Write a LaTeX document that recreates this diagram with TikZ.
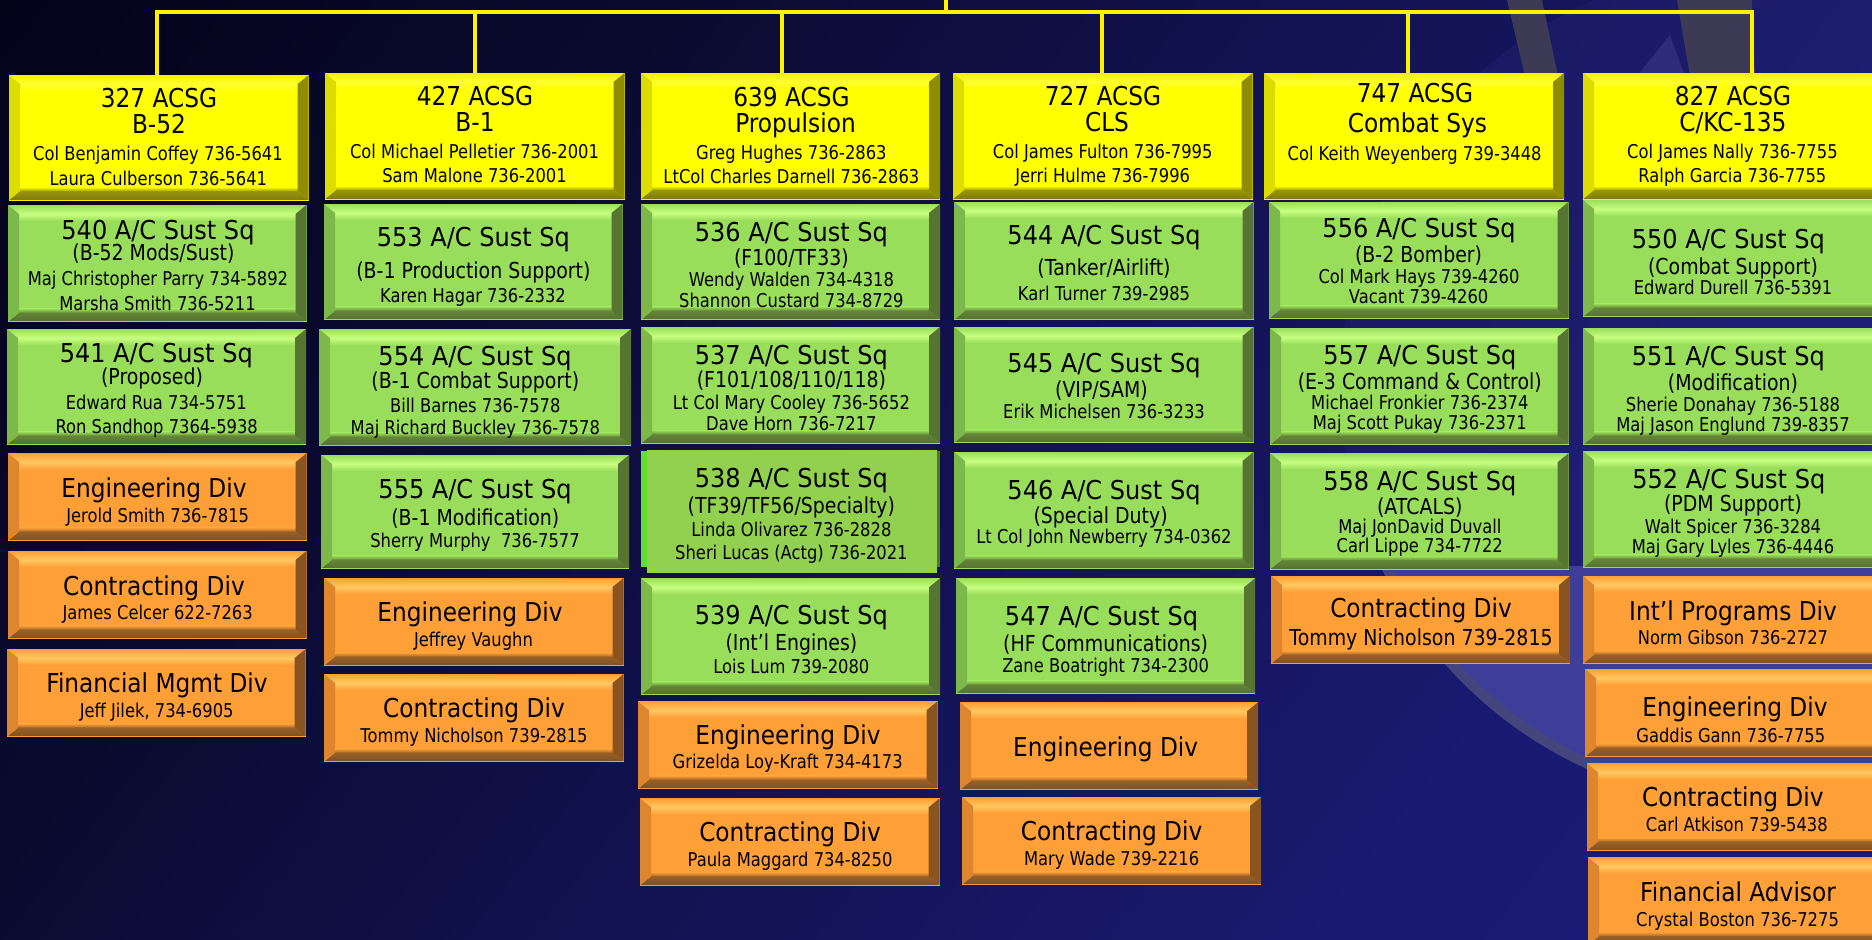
\documentclass[tikz,border=0pt]{standalone}
\usepackage{fontspec}
\usepackage{graphicx}
\setmainfont{DejaVu Sans}[FakeStretch=0.86]
\definecolor{bgA}{HTML}{03031A}
\definecolor{bgD}{HTML}{0A0A2E}
\definecolor{bgB}{HTML}{121250}
\definecolor{bgE}{HTML}{1A1A72}
\definecolor{bgC}{HTML}{1C1C78}
\pgfdeclarehorizontalshading{bgshade}{100bp}{color(0bp)=(bgA); color(25bp)=(bgA); color(37.5bp)=(bgD); color(50bp)=(bgB); color(65bp)=(bgE); color(75bp)=(bgC); color(100bp)=(bgC)}
\definecolor{wmring}{HTML}{3E3E98}
\definecolor{wmedge}{HTML}{45457E}
\definecolor{wmgrey}{HTML}{3C3A55}
\definecolor{wmtri}{HTML}{2E2C78}
\definecolor{yfa}{HTML}{FFFF00}\definecolor{ytp}{HTML}{F2F200}\definecolor{yhl}{HTML}{FFFF30}\definecolor{ylf}{HTML}{DCDC00}\definecolor{yrt}{HTML}{8F8C00}\definecolor{ybt}{HTML}{7F7A10}\definecolor{yed}{HTML}{FFF000}
\definecolor{gfa}{HTML}{99DE5A}\definecolor{gtp}{HTML}{99DE5C}\definecolor{ghl}{HTML}{C8FF80}\definecolor{glf}{HTML}{7DB84A}\definecolor{grt}{HTML}{557530}\definecolor{gbt}{HTML}{55702F}\definecolor{ged}{HTML}{99D868}
\definecolor{ofa}{HTML}{FF9F38}\definecolor{otp}{HTML}{FFA035}\definecolor{ohl}{HTML}{FFC860}\definecolor{olf}{HTML}{DD862E}\definecolor{ort}{HTML}{8A5420}\definecolor{obt}{HTML}{7F5022}\definecolor{oed}{HTML}{F5A040}
\definecolor{flatg}{HTML}{92D050}
\definecolor{edgeg}{HTML}{5FE030}
\tikzset{
  x=1pt,y=-1pt,
  boxnode/.style={inner sep=0pt,outer sep=0pt,text=black},
  bus/.style={draw=yellow,line width=4pt,line cap=rect},
}
% one line of text at absolute picture position, drawn inside the box node
\newcommand\lineat[5][1]{%
  \pgfmathsetmacro\ldx{#2-\bxcx}\pgfmathsetmacro\ldy{\bxcy-#3}%
  \rlap{\kern\ldx pt\raisebox{\ldy pt}[0pt][0pt]{\makebox[0pt][c]{\scalebox{#1}[1]{\fontsize{#4}{#4}\selectfont #5}}}}%
}
\newcommand\ttl[3]{\lineat[1.04]{#1}{#2}{26}{#3}}
\newcommand\sqt[3]{\lineat[1.075]{#1}{#2}{26}{#3 A/C Sust Sq}}
\newcommand\sbt[3]{\lineat{#1}{#2}{22}{#3}}
\newcommand\nam[3]{\lineat{#1}{#2}{19}{#3}}
% bevelled box
\newcommand\bx[7]{%
  \pgfmathsetmacro\bxcx{(#2+#4)/2}\pgfmathsetmacro\bxcy{(#3+#5)/2}%
  \pgfmathsetmacro\bxw{#4-#2}\pgfmathsetmacro\bxh{#5-#3}%
  \pgfmathsetmacro\inl{#2+11}\pgfmathsetmacro\inr{#4-11}%
  \pgfmathsetmacro\int{#3+9}\pgfmathsetmacro\inb{#5-9}%
  \pgfmathsetmacro\hlb{#3+16}\pgfmathsetmacro\sdb{#5-13}%
  \fill[#6fa] (#2,#3) rectangle (#4,#5);
  \shade[top color=#6hl,bottom color=#6fa] (\inl,\int) rectangle (\inr,\hlb);
  \shade[top color=#6fa,bottom color=#6bt!70!#6fa] (\inl,\sdb) rectangle (\inr,\inb);
  \shade[top color=#6tp,bottom color=#6hl] (#2,#3) -- (#4,#3) -- (\inr,\int) -- (\inl,\int) -- cycle;
  \shade[top color=#6bt!80!#6fa,bottom color=#6bt] (#2,#5) -- (#4,#5) -- (\inr,\inb) -- (\inl,\inb) -- cycle;
  \fill[#6lf] (#2,#3) -- (\inl,\int) -- (\inl,\inb) -- (#2,#5) -- cycle;
  \fill[#6rt] (#4,#3) -- (\inr,\int) -- (\inr,\inb) -- (#4,#5) -- cycle;
  \draw[#6ed,line width=1pt] (#2,#5) -- (#4,#5);
  \node[boxnode,minimum width=\bxw pt,minimum height=\bxh pt] (#1) at (\bxcx,\bxcy) {#7};
}
\begin{document}
\begin{tikzpicture}
\useasboundingbox (0,0) rectangle (1872,940);
\clip (0,0) rectangle (1872,940);
\begin{scope}[transform canvas={rotate around={-38:(936,470)}}]
\shade[shading=bgshade] (-91,-800) rectangle (1963,1740);
\end{scope}
% watermark seal
\fill[wmring,opacity=0.15] (1760,386) circle[radius=420];
\begin{scope}
\clip (1300,566) rectangle (1872,940);
\fill[wmring] (1760,386) circle[radius=420];
\draw[wmedge,line width=10pt] (1760,386) circle[radius=415];
\end{scope}
\fill[wmgrey] (1507,0) -- (1542,0) -- (1558,76) -- (1525,76) -- cycle;
\fill[wmgrey] (1677,0) -- (1752,0) -- (1755,76) -- (1690,76) -- cycle;
\fill[wmtri] (1670,35) -- (1637,76) -- (1685,76) -- cycle;

% column 1
\bx{n327}{9}{75}{308.6}{200}{y}{\ttl{159}{107.3}{327 ACSG}\ttl{159}{133.3}{B-52}\nam{158}{160.7}{Col Benjamin Coffey 736-5641}\nam{158.3}{185.3}{Laura Culberson 736-5641}}
\bx{n540}{8}{205}{306.5}{321.7}{g}{\sqt{158}{239}{540}\sbt{153.5}{260.3}{(B-52 Mods/Sust)}\nam{158}{285.7}{Maj Christopher Parry 734-5892}\nam{157.5}{310.7}{Marsha Smith 736-5211}}
\bx{n541}{7}{329}{306}{444.7}{g}{\sqt{156.3}{362}{541}\sbt{152}{384}{(Proposed)}\nam{156.3}{409.3}{Edward Rua 734-5751}\nam{156.7}{433.3}{Ron Sandhop 7364-5938}}
\bx{e1}{8}{453.3}{306.5}{540.7}{o}{\ttl{154}{497.7}{Engineering Div}\nam{157.7}{522.3}{Jerold Smith 736-7815}}
\bx{c1}{8}{551}{306.5}{638.7}{o}{\ttl{154}{595}{Contracting Div}\nam{157.7}{619}{James Celcer 622-7263}}
\bx{f1}{7}{649}{305.6}{736.7}{o}{\ttl{157}{692.3}{Financial Mgmt Div}\nam{156.7}{717.3}{Jeff Jilek, 734-6905}}

% column 2
\bx{n427}{325}{73}{624.5}{199}{y}{\ttl{475}{105.3}{427 ACSG}\ttl{475}{131}{B-1}\nam{474.5}{158.3}{Col Michael Pelletier 736-2001}\nam{474.5}{182.3}{Sam Malone 736-2001}}
\bx{n553}{324}{204}{622.5}{319.7}{g}{\sqt{473.4}{246}{553}\sbt{473.4}{278.3}{(B-1 Production Support)}\nam{473}{302.3}{Karen Hagar 736-2332}}
\bx{n554}{319}{329}{631}{445.7}{g}{\sqt{475}{365.7}{554}\sbt{475.3}{388.3}{(B-1 Combat Support)}\nam{475.3}{412.3}{Bill Barnes 736-7578}\nam{475.3}{434.3}{Maj Richard Buckley 736-7578}}
\bx{n555}{321}{455}{629}{568.7}{g}{\sqt{475}{498.3}{555}\sbt{475.3}{525}{(B-1 Modification)}\nam{475}{547.3}{Sherry Murphy\ \ 736-7577}}
\bx{e2}{324}{578}{623.6}{665.7}{o}{\ttl{470}{621.7}{Engineering Div}\nam{473.5}{646}{Jeffrey Vaughn}}
\bx{c2}{324}{674}{623.6}{761.7}{o}{\ttl{474}{717.7}{Contracting Div}\nam{474}{742.3}{Tommy Nicholson 739-2815}}

% column 3
\bx{n639}{641}{73}{940}{199}{y}{\ttl{791.4}{106.7}{639 ACSG}\ttl{795.5}{132.3}{Propulsion}\nam{791.4}{159}{Greg Hughes 736-2863}\nam{791.4}{183.3}{LtCol Charles Darnell 736-2863}}
\bx{n536}{641}{204}{940}{319.7}{g}{\sqt{791.4}{241.7}{536}\sbt{791.4}{265}{(F100/TF33)}\nam{791.4}{286.7}{Wendy Walden 734-4318}\nam{791.4}{307.3}{Shannon Custard 734-8729}}
\bx{n537}{641}{327}{940}{443.3}{g}{\sqt{791.4}{364.3}{537}\sbt{791.4}{387.7}{(F101/108/110/118)}\nam{791.4}{409.3}{Lt Col Mary Cooley 736-5652}\nam{791.4}{430}{Dave Horn 736-7217}}
\fill[edgeg] (641,450.7) rectangle (648,567.3);
\fill[grt] (936,450.7) rectangle (939.6,567.3);
\fill[flatg] (647,450) rectangle (937,573);
\node[boxnode,minimum width=290pt,minimum height=123pt] (n538) at (792,511.5) {\def\bxcx{792}\def\bxcy{511.5}\sqt{791.4}{487.3}{538}\sbt{791.4}{513.3}{(TF39/TF56/Specialty)}\nam{791.4}{536}{Linda Olivarez 736-2828}\nam{791.4}{559.3}{Sheri Lucas (Actg) 736-2021}};
\bx{n539}{641}{578.3}{940}{694.7}{g}{\sqt{791.4}{624}{539}\sbt{791.4}{650.7}{(Int’l Engines)}\nam{791.4}{673.3}{Lois Lum 739-2080}}
\bx{e3}{638}{701.3}{937.5}{788.7}{o}{\ttl{788}{744}{Engineering Div}\nam{787.7}{768.3}{Grizelda Loy-Kraft 734-4173}}
\bx{c3}{640}{798.3}{939.6}{885.3}{o}{\ttl{790}{841.7}{Contracting Div}\nam{790}{866}{Paula Maggard 734-8250}}

% column 4
\bx{n727}{953}{73}{1252.6}{199}{y}{\ttl{1103}{105.3}{727 ACSG}\ttl{1107}{131}{CLS}\nam{1102.7}{158.3}{Col James Fulton 736-7995}\nam{1102.7}{182.3}{Jerri Hulme 736-7996}}
\bx{n544}{954}{202}{1253.5}{319.7}{g}{\sqt{1104}{244}{544}\sbt{1104}{275}{(Tanker/Airlift)}\nam{1104}{300}{Karl Turner 739-2985}}
\bx{n545}{954}{327}{1253.5}{442.7}{g}{\sqt{1104}{372.7}{545}\sbt{1101.5}{397.7}{(VIP/SAM)}\nam{1104}{418.3}{Erik Michelsen 736-3233}}
\bx{n546}{954}{452}{1253.5}{568.7}{g}{\sqt{1104}{499}{546}\sbt{1100.6}{523.3}{(Special Duty)}\nam{1104}{543.3}{Lt Col John Newberry 734-0362}}
\bx{n547}{956}{578.3}{1255}{693.7}{g}{\sqt{1101.5}{625.7}{547}\sbt{1105.6}{651.7}{(HF Communications)}\nam{1105.6}{672.3}{Zane Boatright 734-2300}}
\bx{e4}{960}{702.3}{1258}{789.7}{o}{\ttl{1105.6}{756.7}{Engineering Div}}
\bx{c4}{962}{797}{1261}{884.7}{o}{\ttl{1111.6}{840.7}{Contracting Div}\nam{1111.6}{865}{Mary Wade 739-2216}}

% column 5
\bx{n747}{1264}{73}{1564}{199}{y}{\ttl{1415}{102.7}{747 ACSG}\ttl{1417.4}{132.3}{Combat Sys}\nam{1414.6}{160.7}{Col Keith Weyenberg 739-3448}}
\bx{n556}{1269}{202}{1568.5}{318.7}{g}{\sqt{1419}{237.7}{556}\sbt{1418.6}{262.3}{(B-2 Bomber)}\nam{1419}{283.3}{Col Mark Hays 739-4260}\nam{1418.6}{303.3}{Vacant 739-4260}}
\bx{n557}{1270}{328}{1568.5}{444.7}{g}{\sqt{1419.8}{364.3}{557}\sbt{1419.8}{389.3}{(E-3 Command \& Control)}\nam{1419.8}{409.3}{Michael Fronkier 736-2374}\nam{1419.8}{429.3}{Maj Scott Pukay 736-2371}}
\bx{n558}{1270}{453.3}{1568.5}{569.3}{g}{\sqt{1419.8}{490.7}{558}\sbt{1419.8}{514.3}{(ATCALS)}\nam{1419.8}{533.3}{Maj JonDavid Duvall}\nam{1419.8}{552.3}{Carl Lippe 734-7722}}
\bx{c5}{1271}{576}{1570}{663.7}{o}{\ttl{1421}{617.7}{Contracting Div}\lineat{1421}{645}{22}{Tommy Nicholson 739-2815}}

% column 6
\bx{n827}{1583}{73}{1883}{199}{y}{\ttl{1733}{105.3}{827 ACSG}\ttl{1732.8}{131}{C/KC-135}\nam{1732.4}{158.3}{Col James Nally 736-7755}\nam{1732.4}{182.3}{Ralph Garcia 736-7755}}
\bx{n550}{1583}{200}{1883}{316.7}{g}{\sqt{1728.4}{248.3}{550}\sbt{1733}{274}{(Combat Support)}\nam{1733}{294.7}{Edward Durell 736-5391}}
\bx{n551}{1583}{328}{1883}{444.7}{g}{\sqt{1728.4}{365}{551}\sbt{1733}{390}{(Modification)}\nam{1733}{411.7}{Sherie Donahay 736-5188}\nam{1733}{431.7}{Maj Jason Englund 739-8357}}
\bx{n552}{1583}{451.3}{1883}{567.7}{g}{\sqt{1728.8}{488.3}{552}\sbt{1733}{511.7}{(PDM Support)}\nam{1733}{533.3}{Walt Spicer 736-3284}\nam{1733}{553.3}{Maj Gary Lyles 736-4446}}
\bx{p6}{1583}{576}{1883}{663.7}{o}{\ttl{1733}{620}{Int’l Programs Div}\nam{1733}{644}{Norm Gibson 736-2727}}
\bx{e6}{1585}{669}{1885}{756.7}{o}{\ttl{1735}{716}{Engineering Div}\nam{1730.8}{742.3}{Gaddis Gann 736-7755}}
\bx{c6}{1587}{763.3}{1887}{850.7}{o}{\ttl{1732.8}{806.7}{Contracting Div}\nam{1736.8}{831}{Carl Atkison 739-5438}}
\bx{f6}{1588}{857.3}{1888}{945}{o}{\ttl{1738}{901.7}{Financial Advisor}\nam{1737.5}{926}{Crystal Boston 736-7275}}

% connectors
\coordinate (top) at (946,-3);
\coordinate (busL) at (157,12);
\coordinate (busR) at (1752,12);
\coordinate (busM) at (946,12);
\coordinate (t427) at (474.7,12);
\coordinate (t639) at (782.4,12);
\coordinate (t727) at (1102,12);
\coordinate (t747) at (1408,12);
\draw[bus] (top) -- (busM);
\draw[bus,line cap=butt,line join=miter] (n327.north -| busL) -- (busL) -- (busR) -- (n827.north -| busR);
\draw[bus,line cap=butt] (t427) -- (n427.north -| t427);
\draw[bus,line cap=butt] (t639) -- (n639.north -| t639);
\draw[bus,line cap=butt] (t727) -- (n727.north -| t727);
\draw[bus,line cap=butt] (t747) -- (n747.north -| t747);
\end{tikzpicture}
\end{document}
